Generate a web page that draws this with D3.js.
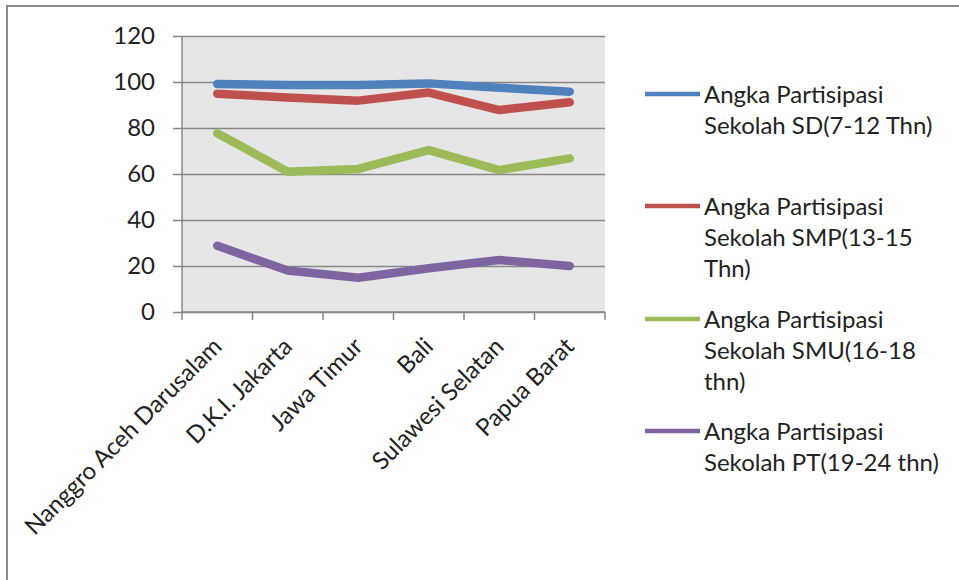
<!DOCTYPE html>
<html>
<head>
<meta charset="utf-8">
<script src="https://cdn.jsdelivr.net/npm/d3@7"></script>
<style>
  html, body { margin: 0; padding: 0; background: #fff; }
  svg { display: block; }
  text { font-family: Lato, "Open Sans", sans-serif; fill: #222; }
</style>
</head>
<body>
<svg id="chart" width="959" height="580"></svg>
<script>
// Provinces on the category axis
const provinces = ["Nanggro Aceh Darusalam", "D.K.I. Jakarta", "Jawa Timur", "Bali", "Sulawesi Selatan", "Papua Barat"];

// School participation rates (%) per age group
const apsSD  = [99.1, 98.7, 98.7, 99.4, 97.5, 95.8];
const apsSMP = [94.9, 93.3, 91.9, 95.4, 87.8, 91.2];
const apsSMU = [77.7, 61.0, 62.2, 70.4, 61.7, 66.8];
const apsPT  = [28.8, 18.0, 14.9, 19.0, 22.6, 20.0];

const yTicks = [0, 20, 40, 60, 80, 100, 120];

const seriesNames = [
  ["Angka Partisipasi", "Sekolah SD(7-12 Thn)"],
  ["Angka Partisipasi", "Sekolah SMP(13-15", "Thn)"],
  ["Angka Partisipasi", "Sekolah SMU(16-18", "thn)"],
  ["Angka Partisipasi", "Sekolah PT(19-24 thn)"]
];
const seriesColors = ["#4F81BD", "#C0504D", "#9BBB59", "#8064A2"];
const seriesValues = [apsSD, apsSMP, apsSMU, apsPT];

const svg = d3.select("#chart");

// outer chart frame
svg.append("rect")
  .attr("x", 7).attr("y", 6)
  .attr("width", 980).attr("height", 600)
  .attr("fill", "#fff")
  .attr("stroke", "#8a8a8a").attr("stroke-width", 2);

const plot = { left: 182, right: 605, top: 36, bottom: 312 };

const x = d3.scaleBand().domain(provinces).range([plot.left, plot.right]).padding(0);
const y = d3.scaleLinear().domain([0, 120]).range([plot.bottom, plot.top]);
const cx = d => x(d) + x.bandwidth() / 2;

// plot area background
svg.append("rect")
  .attr("x", plot.left).attr("y", plot.top)
  .attr("width", plot.right - plot.left).attr("height", plot.bottom - plot.top)
  .attr("fill", "#e6e6e6");

// value axis with gridlines
const yAxis = svg.append("g")
  .attr("transform", `translate(${plot.left},0)`)
  .call(d3.axisLeft(y).tickValues(yTicks).tickSize(-(plot.right - plot.left)).tickPadding(27));
yAxis.select(".domain").remove();
yAxis.selectAll(".tick line")
  .attr("x1", -9)
  .attr("stroke", "#878787").attr("stroke-width", 1.5);
yAxis.selectAll(".tick text")
  .style("font-family", "Lato, 'Open Sans', sans-serif")
  .style("font-size", "24px").attr("fill", "#222");

// vertical axis line
svg.append("line")
  .attr("x1", plot.left).attr("x2", plot.left)
  .attr("y1", plot.top).attr("y2", plot.bottom)
  .attr("stroke", "#878787").attr("stroke-width", 1.5);

// category axis: line plus tick marks at band boundaries
svg.append("line")
  .attr("x1", plot.left).attr("x2", plot.right)
  .attr("y1", plot.bottom).attr("y2", plot.bottom)
  .attr("stroke", "#878787").attr("stroke-width", 1.5);
const bounds = provinces.map(p => x(p)).concat([plot.right]);
svg.append("g").selectAll("line").data(bounds).join("line")
  .attr("x1", d => d).attr("x2", d => d)
  .attr("y1", plot.bottom).attr("y2", plot.bottom + 8)
  .attr("stroke", "#878787").attr("stroke-width", 1.5);

// rotated category labels
svg.append("g").selectAll("text").data(provinces).join("text")
  .attr("transform", d => `translate(${cx(d)},${plot.bottom + 30}) rotate(-45)`)
  .attr("text-anchor", "end")
  .attr("dy", "0.35em")
  .style("font-size", "24px")
  .text(d => d);

// series lines
const line = d3.line().x((v, i) => cx(provinces[i])).y(v => y(v));
svg.append("g").selectAll("path").data(seriesValues).join("path")
  .attr("d", d => line(d))
  .attr("fill", "none")
  .attr("stroke", (d, i) => seriesColors[i])
  .attr("stroke-width", 8.5)
  .attr("stroke-linecap", "round")
  .attr("stroke-linejoin", "round");

// legend
const legendTop = [94, 206, 319, 431];
const legend = svg.append("g").selectAll("g").data(seriesNames).join("g")
  .attr("transform", (d, i) => `translate(645,${legendTop[i]})`);
legend.append("line")
  .attr("x1", 0).attr("x2", 55).attr("y1", 0).attr("y2", 0)
  .attr("stroke", (d, i) => seriesColors[i])
  .attr("stroke-width", 4.5);
legend.append("text")
  .attr("x", 59).attr("y", 9)
  .style("font-size", "24px")
  .selectAll("tspan").data(d => d).join("tspan")
  .attr("x", 59).attr("dy", (d, i) => i === 0 ? 0 : 31)
  .text(d => d);
</script>
</body>
</html>
